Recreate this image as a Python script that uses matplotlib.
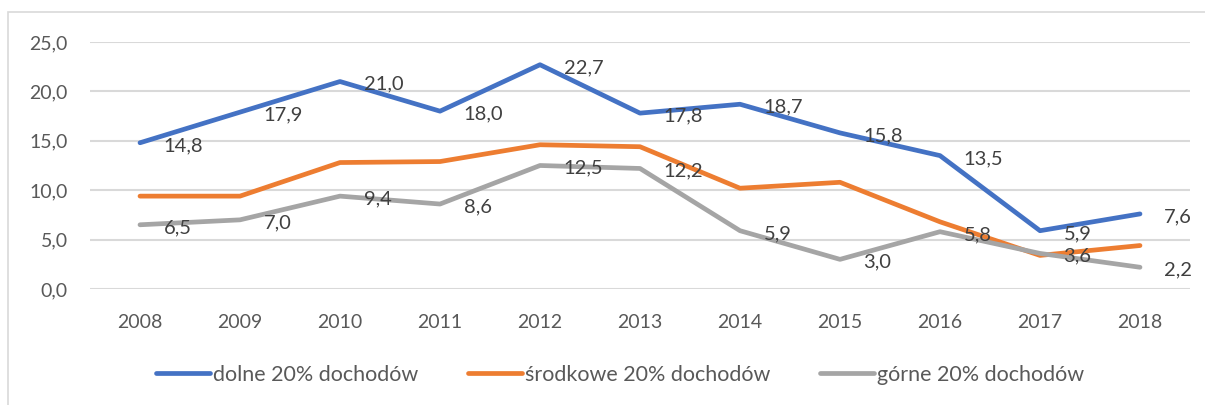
import matplotlib
matplotlib.use("Agg")
import matplotlib.pyplot as plt
from matplotlib.patches import Rectangle

years = ['2008', '2009', '2010', '2011', '2012', '2013', '2014', '2015', '2016', '2017', '2018']
dolne = [14.8, 17.9, 21.0, 18.0, 22.7, 17.8, 18.7, 15.8, 13.5, 5.9, 7.6]
srodkowe = [9.4, 9.4, 12.8, 12.9, 14.6, 14.4, 10.2, 10.8, 6.8, 3.4, 4.4]
gorne = [6.5, 7.0, 9.4, 8.6, 12.5, 12.2, 5.9, 3.0, 5.8, 3.6, 2.2]
names = ['dolne 20% dochodów', 'środkowe 20% dochodów', 'górne 20% dochodów']

plt.rcParams['font.family'] = ['Lato', 'DejaVu Sans']

fig = plt.figure(figsize=(12.05, 4.05), dpi=100)
fig.patches.append(Rectangle((8 / 1205, -0.05), 1.2, 1 - 12 / 405 + 0.05,
                             transform=fig.transFigure, fill=False,
                             edgecolor='#d9d9d9', linewidth=1.2))
ax = fig.add_axes([90 / 1205, 1 - 289 / 405, 1100 / 1205, 247 / 405])

x = list(range(len(years)))
ax.plot(x, dolne, color='#4472C4', lw=3.4, label=names[0], solid_capstyle='round')
ax.plot(x, srodkowe, color='#ED7D31', lw=3.4, label=names[1], solid_capstyle='round')
ax.plot(x, gorne, color='#A5A5A5', lw=3.4, label=names[2], solid_capstyle='round')

def fmt(v):
    return ('%.1f' % v).replace('.', ',')

for series in (dolne, gorne):
    for i, v in enumerate(series):
        ax.annotate(fmt(v), (i, v), xytext=(17, -2), textcoords='offset points',
                    ha='left', va='center', fontsize=14.5, color='#404040')

ax.set_xlim(-0.5, len(years) - 0.5)
ax.set_ylim(0, 25)
ax.set_yticks([0, 5, 10, 15, 20, 25])
ax.set_yticklabels([fmt(v) for v in [0, 5, 10, 15, 20, 25]])
ax.set_xticks(x)
ax.set_xticklabels(years)
ax.tick_params(axis='both', length=0, labelsize=14, colors='#595959')
ax.tick_params(axis='x', pad=18)
ax.tick_params(axis='y', pad=16)
ax.grid(axis='y', color='#d9d9d9', lw=1.5)
ax.set_axisbelow(True)
for s in ax.spines.values():
    s.set_visible(False)

leg = fig.legend(loc='center', bbox_to_anchor=(620 / 1205, 1 - 375 / 405), ncol=3,
                 frameon=False, fontsize=15.5, handlelength=2.5, handletextpad=0.15,
                 columnspacing=2.3)
for t in leg.get_texts():
    t.set_color('#595959')

fig.savefig('out.png', dpi=100)
